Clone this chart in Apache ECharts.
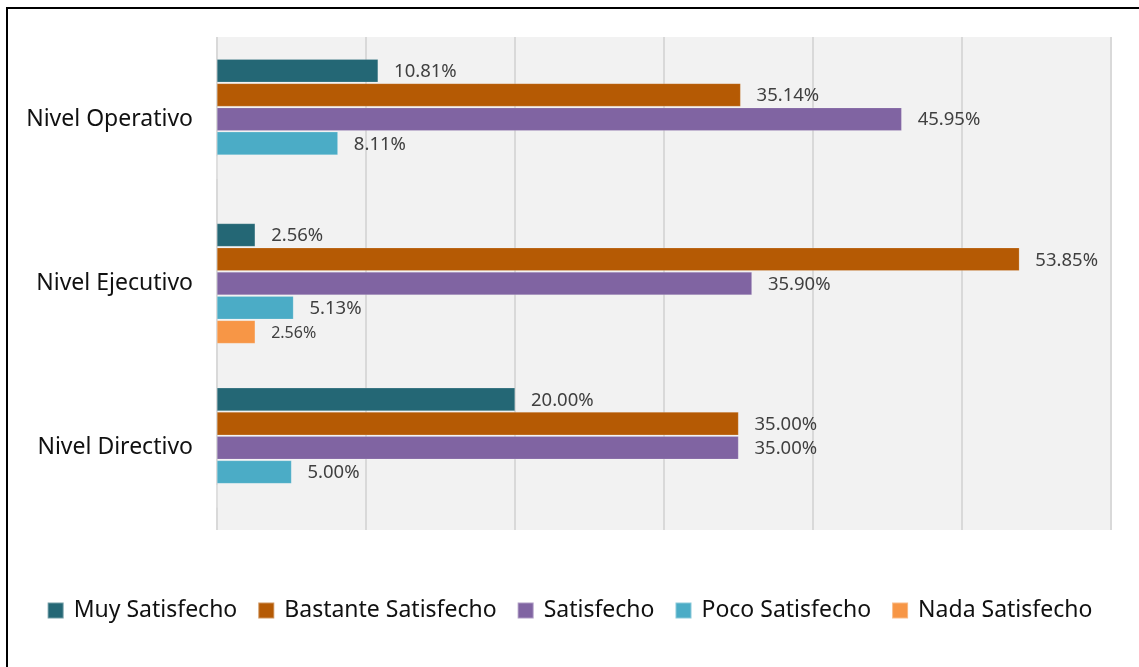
<!DOCTYPE html>
<html>
<head>
<meta charset="utf-8">
<script src="https://cdn.jsdelivr.net/npm/echarts@6/dist/echarts.min.js"></script>
<style>
html,body{margin:0;padding:0;background:#fff;}
#frame{position:absolute;left:6px;top:7px;width:1140px;height:670px;border:2px solid #000;box-sizing:border-box;}
#chart{position:absolute;left:0;top:0;width:1139px;height:667px;}
</style>
</head>
<body>
<div id="frame"></div>
<div id="chart"></div>
<script>
const categories = ['Nivel Operativo', 'Nivel Ejecutivo', 'Nivel Directivo'];
const seriesNames = ['Muy Satisfecho', 'Bastante Satisfecho', 'Satisfecho', 'Poco Satisfecho', 'Nada Satisfecho'];
const muySatisfecho = [10.81, 2.56, 20.00];
const bastanteSatisfecho = [35.14, 53.85, 35.00];
const satisfecho = [45.95, 35.90, 35.00];
const pocoSatisfecho = [8.11, 5.13, 5.00];
const nadaSatisfecho = [0, 2.56, 0];
const colors = ['#246775', '#B55A04', '#8064A2', '#4BACC6', '#F79646'];
const xTicks = [0, 10, 20, 30, 40, 50, 60];

const values = [muySatisfecho, bastanteSatisfecho, satisfecho, pocoSatisfecho, nadaSatisfecho];
const font = 'Noto Sans';

const chart = echarts.init(document.getElementById('chart'), null, {renderer: 'canvas'});
chart.setOption({
  animation: false,
  backgroundColor: 'transparent',
  color: colors,
  grid: {left: 217, right: 28, top: 37, bottom: 137, containLabel: false, show: true, backgroundColor: '#f2f2f2', borderWidth: 0},
  legend: {
    bottom: 40, left: 'center',
    itemWidth: 16, itemHeight: 16, itemGap: 20, icon: 'rect',
    textStyle: {fontFamily: font, fontSize: 23, color: '#111', padding: [0, 0, 0, 5]},
    data: seriesNames
  },
  xAxis: {
    type: 'value', min: xTicks[0], max: xTicks[xTicks.length - 1], interval: 10,
    axisLabel: {show: false}, axisLine: {show: false}, axisTick: {show: false},
    splitLine: {show: true, lineStyle: {color: '#d9d9d9', width: 2}}
  },
  yAxis: {
    type: 'category', data: categories, inverse: true,
    axisLine: {show: false}, axisTick: {show: false},
    axisLabel: {fontFamily: font, fontSize: 23, color: '#111', margin: 24}
  },
  series: seriesNames.map((name, i) => ({
    name: name, type: 'bar', data: values[i],
    barCategoryGap: '27%', barGap: '5%',
    itemStyle: {color: colors[i], borderColor: 'rgba(255,255,255,0.35)', borderWidth: 0.5},
    label: {
      show: true, position: 'right', distance: 16, offset: [0, 1],
      fontFamily: font, fontSize: i === 4 ? 16 : 18.5, color: '#404040',
      formatter: p => p.value ? p.value.toFixed(2) + '%' : ''
    }
  }))
});
</script>
</body>
</html>
